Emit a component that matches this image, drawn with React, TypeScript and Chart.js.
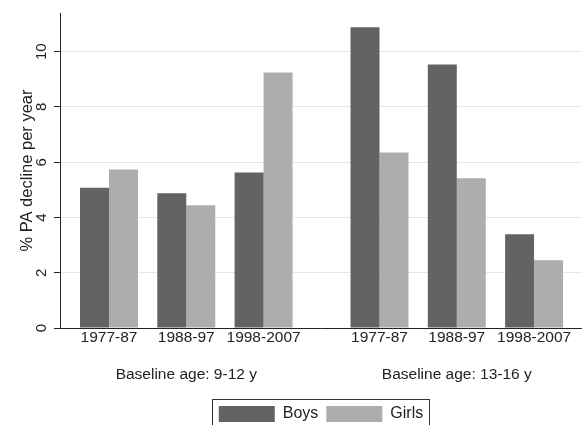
import React, { useEffect, useRef } from 'react';
import { Chart, registerables } from 'chart.js';

Chart.register(...registerables);

// ---- data ----
const periods = ['1977-87', '1988-97', '1998-2007', '1977-87', '1988-97', '1998-2007'];
const periodGroup = [0, 0, 0, 1, 1, 1];
const groupLabels = ['Baseline age: 9-12 y', 'Baseline age: 13-16 y'];
const boys = [5.08, 4.88, 5.63, 10.88, 9.54, 3.39];
const girls = [5.74, 4.44, 9.25, 6.35, 5.42, 2.45];
const yTickValues = [0, 2, 4, 6, 8, 10];
const seriesNames = ['Boys', 'Girls'];

// ---- layout helpers ----
const GROUP_GAP = 0.5;
const positions = periods.map((_, i) => i + periodGroup[i] * GROUP_GAP);
// index of the middle period of each group (where the group label goes)
const groupMiddle = groupLabels.map((_, g) => {
  const idx = periods.map((_, i) => i).filter((i) => periodGroup[i] === g);
  return idx[Math.floor(idx.length / 2)];
});
const tickLabel = (i: number) => {
  const g = groupMiddle.indexOf(i);
  return g >= 0 ? [periods[i], '', groupLabels[g]] : periods[i];
};

const FONT = "'Liberation Sans', Arial, Helvetica, sans-serif";
const TEXT = '#222222';
const BOYS_COLOR = '#636365';
const GIRLS_COLOR = '#adadb0';

const legendFrame = {
  id: 'legendFrame',
  afterDraw(chart: any) {
    const lg = chart.legend;
    if (!lg || !lg.legendHitBoxes || !lg.legendHitBoxes.length) return;
    const hb = lg.legendHitBoxes;
    const left = Math.min(...hb.map((h: any) => h.left)) - 7;
    const right = Math.max(...hb.map((h: any) => h.left + h.width)) + 6;
    const top = Math.min(...hb.map((h: any) => h.top)) - 7;
    const ctx = chart.ctx;
    ctx.save();
    ctx.strokeStyle = '#333333';
    ctx.lineWidth = 1;
    ctx.strokeRect(Math.round(left) + 0.5, Math.round(top) + 0.5, Math.round(right - left), chart.height + 20 - top);
    ctx.restore();
  },
};

export default function App() {
  const ref = useRef<HTMLCanvasElement | null>(null);

  useEffect(() => {
    document.body.style.margin = '0';
    const canvas = ref.current;
    if (!canvas) return;
    const chart = new Chart(canvas, {
      type: 'bar',
      data: {
        datasets: [
          {
            label: seriesNames[0],
            data: boys.map((v, i) => ({ x: positions[i], y: v })),
            backgroundColor: BOYS_COLOR,
            borderWidth: 0,
          },
          {
            label: seriesNames[1],
            data: girls.map((v, i) => ({ x: positions[i], y: v })),
            backgroundColor: GIRLS_COLOR,
            borderWidth: 0,
          },
        ],
      },
      options: {
        responsive: false,
        animation: false,
        devicePixelRatio: 1,
        layout: { padding: { top: 12, right: 0, left: 0, bottom: -7 } },
        datasets: { bar: { categoryPercentage: 0.75, barPercentage: 1 } },
        plugins: {
          tooltip: { enabled: false },
          legend: {
            position: 'bottom',
            fullSize: false,
            labels: {
              boxWidth: 56,
              boxHeight: 16,
              padding: 8,
              color: TEXT,
              font: { family: FONT, size: 16 },
            },
          },
        },
        scales: {
          x: {
            type: 'linear',
            position: 'bottom',
            min: -0.634,
            max: 6.12,
            offset: false,
            grid: { display: false, drawTicks: false },
            border: { display: true, color: TEXT, width: 1 },
            afterBuildTicks: (scale: any) => {
              scale.ticks = positions.map((v) => ({ value: v }));
            },
            afterFit: (scale: any) => {
              scale.height = 70;
            },
            ticks: {
              autoSkip: false,
              maxRotation: 0,
              minRotation: 0,
              padding: 0,
              color: TEXT,
              font: { family: FONT, size: 15.5, lineHeight: '18.5px' },
              callback: (_v: any, i: number) => tickLabel(i),
            },
          },
          y: {
            type: 'linear',
            min: 0,
            max: 11.4,
            afterBuildTicks: (scale: any) => {
              scale.ticks = yTickValues.map((v) => ({ value: v }));
            },
            afterFit: (scale: any) => {
              scale.width = 60;
            },
            grid: { color: '#e6e6e6', tickColor: TEXT, tickLength: 6, lineWidth: 1 },
            border: { display: true, color: TEXT, width: 1 },
            ticks: {
              minRotation: 90,
              maxRotation: 90,
              crossAlign: 'center',
              padding: 4,
              color: TEXT,
              font: { family: FONT, size: 15 },
            },
            title: {
              display: true,
              text: '% PA decline per year',
              color: TEXT,
              font: { family: FONT, size: 16.5 },
              padding: { top: 18, bottom: 0 },
            },
          },
        },
      },
      plugins: [legendFrame],
    } as any);
    return () => chart.destroy();
  }, []);

  return (
    <div style={{ position: 'absolute', left: 0, top: 0, width: 582, height: 425, background: '#fff' }}>
      <canvas ref={ref} width={582} height={425} style={{ display: 'block', width: 582, height: 425 }} />
    </div>
  );
}
